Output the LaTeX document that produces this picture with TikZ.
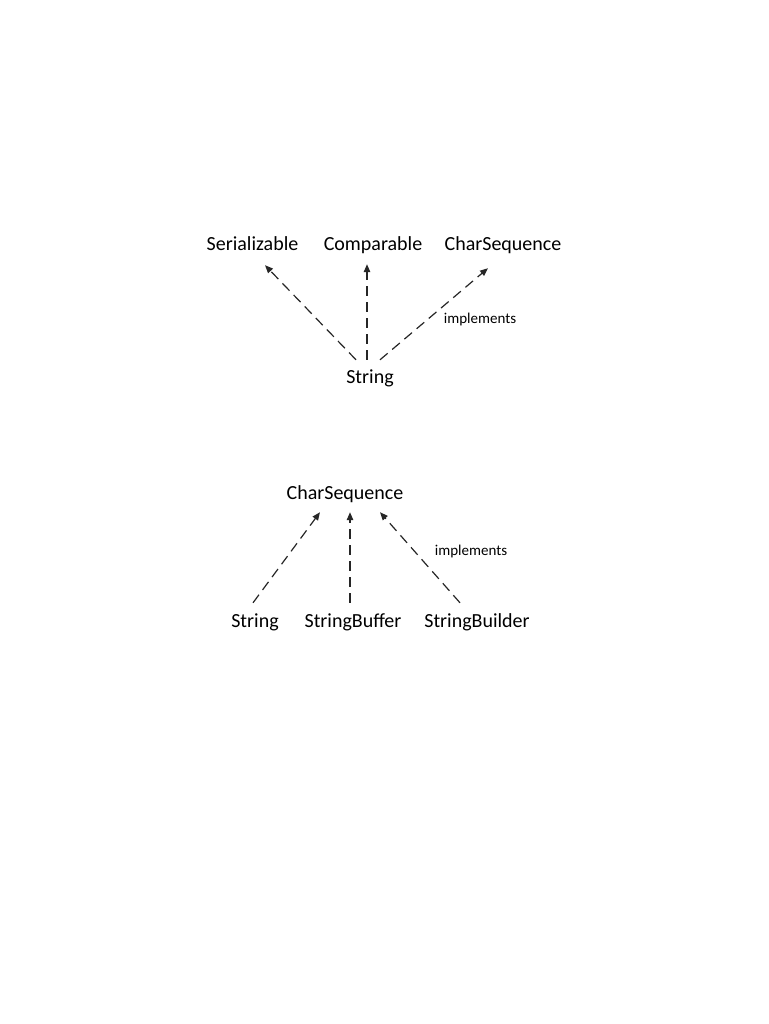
\documentclass[tikz,border=0pt]{standalone}
\usepackage{fontspec}
\setmainfont{Carlito}
\usetikzlibrary{arrows.meta}

\begin{document}
\begin{tikzpicture}[x=1pt,y=-1pt]
\tikzset{
  CL/.style={anchor=base,inner sep=0pt,text height=13pt,text depth=4pt,font=\fontsize{20}{24}\selectfont},
  IM/.style={-{Triangle[length=8pt,width=6.5pt]},line width=1.2pt,dash pattern=on 10pt off 6pt,black!85},
  lb/.style={anchor=base,inner sep=0pt,font=\fontsize{15}{18}\selectfont},
}
\fill[white] (0,0) rectangle (768,1024);
\useasboundingbox (0,0) rectangle (768,1024);

\node[CL](ser)  at (252.5,250){Serializable};
\node[CL](comp) at (373,250){Comparable};
\node[CL](cs1)  at (503,250){CharSequence};
\node[CL](str1) at (370,383){String};
\node[lb](imp1) at (480,323){implements};

\node[CL](cs2)  at (345,499){CharSequence};
\node[CL](str2) at (255,627){String};
\node[CL](sbuf) at (353,627){StringBuffer};
\node[CL](sbld) at (477,627){StringBuilder};
\node[lb](imp2) at (471,555){implements};

\draw[IM]([xshift=-14pt,yshift=10pt]str1.north)--([xshift=12.5pt,yshift=-11pt]ser.south);
\draw[IM]([xshift=-3pt,yshift=10pt]str1.north)--([xshift=-6pt,yshift=-10pt]comp.south);
\draw[IM]([xshift=10pt,yshift=10pt]str1.north)--([xshift=-15pt,yshift=-14pt]cs1.south);

\draw[IM]([xshift=-2pt,yshift=11pt]str2.north)--([xshift=-25pt,yshift=-9pt]cs2.south);
\draw[IM]([xshift=-3pt,yshift=11pt]sbuf.north)--([xshift=5pt,yshift=-9pt]cs2.south);
\draw[IM]([xshift=-17pt,yshift=11pt]sbld.north)--([xshift=35pt,yshift=-9pt]cs2.south);

\end{tikzpicture}
\end{document}
